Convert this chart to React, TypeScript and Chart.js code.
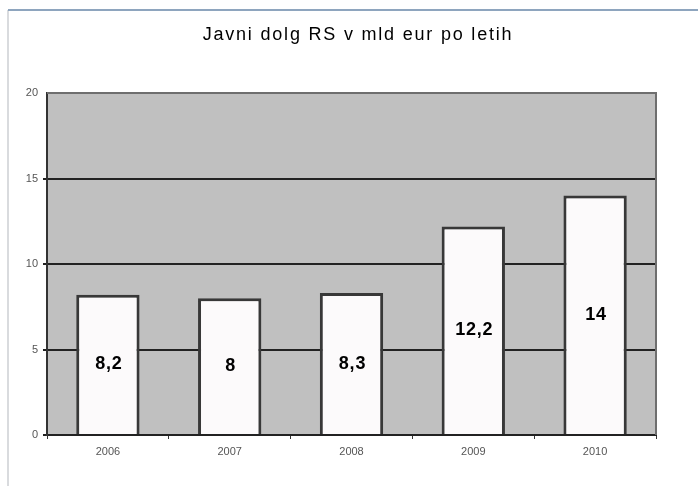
import React, { useEffect, useRef } from "react";
import { Chart, registerables } from "chart.js";

Chart.register(...registerables);

const title = "Javni dolg RS v mld eur po letih";
const categories = ["2006", "2007", "2008", "2009", "2010"];
const debtValues = [8.2, 8, 8.3, 12.2, 14];
const valueLabels = ["8,2", "8", "8,3", "12,2", "14"];
const yTicks = [0, 5, 10, 15, 20];

const decorPlugin = {
  id: "decor",
  beforeDraw(chart: any) {
    const { ctx, chartArea: a } = chart;
    ctx.save();
    // frame
    ctx.fillStyle = "#d9dbde";
    ctx.fillRect(7, 10, 2, 476);
    ctx.fillStyle = "#8ea5be";
    ctx.fillRect(8, 9, 690, 2);
    // plot background
    ctx.fillStyle = "#c0c0c0";
    ctx.fillRect(a.left, a.top, a.right - a.left, a.bottom - a.top);
    // title
    ctx.fillStyle = "#000";
    ctx.font = "18px 'Liberation Sans', Arial, sans-serif";
    ctx.textAlign = "center";
    ctx.textBaseline = "middle";
    (ctx as any).letterSpacing = "1.8px";
    ctx.fillText(title, 358, 35);
    ctx.restore();
  },
  afterDatasetsDraw(chart: any) {
    const { ctx, chartArea: a } = chart;
    const meta = chart.getDatasetMeta(0);
    ctx.save();
    ctx.strokeStyle = "#6e6e6e";
    ctx.lineWidth = 2;
    ctx.beginPath();
    ctx.moveTo(a.left, a.top);
    ctx.lineTo(a.right, a.top);
    ctx.lineTo(a.right, a.bottom);
    ctx.stroke();
    ctx.fillStyle = "#000";
    ctx.font = "bold 18px 'Liberation Sans', Arial, sans-serif";
    ctx.textAlign = "center";
    ctx.textBaseline = "middle";
    (ctx as any).letterSpacing = "0.8px";
    meta.data.forEach((bar: any, i: number) => {
      const yMid = (bar.y + bar.base) / 2;
      ctx.fillText(valueLabels[i], bar.x + 1, yMid);
    });
    ctx.restore();
  },
};

export default function App() {
  const ref = useRef<HTMLCanvasElement>(null);
  useEffect(() => {
    if (!ref.current) return;
    const chart = new Chart(ref.current, {
      type: "bar",
      data: {
        labels: categories,
        datasets: [
          {
            data: debtValues,
            backgroundColor: "#fcfafb",
            borderColor: "#383838",
            borderWidth: { top: 3, left: 3, right: 3, bottom: 0 },
            borderSkipped: "start",
            categoryPercentage: 1,
            barPercentage: 0.52,
          },
        ],
      },
      options: {
        animation: false,
        responsive: false,
        maintainAspectRatio: false,
        layout: { padding: { left: 0, top: 93, right: 42, bottom: 0 } },
        plugins: {
          legend: { display: false },
          title: { display: false },
          tooltip: { enabled: false },
        },
        scales: {
          x: {
            offset: true,
            grid: {
              offset: true,
              drawOnChartArea: false,
              drawTicks: true,
              tickLength: 4,
              color: "#333333",
              lineWidth: 1,
            },
            border: { color: "#222222", width: 2 },
            ticks: {
              color: "#555555",
              font: { family: "'Liberation Sans', Arial, sans-serif", size: 11 },
              padding: 6,
              maxRotation: 0,
            },
            afterFit(scale: any) {
              scale.height = 51;
            },
          },
          y: {
            min: 0,
            max: 20,
            afterBuildTicks(scale: any) {
              scale.ticks = yTicks.map((v) => ({ value: v }));
            },
            grid: {
              color: (c: any) => (c.tick && c.tick.value === 20 ? "rgba(0,0,0,0)" : "#222222"),
              lineWidth: 2,
              drawTicks: true,
              tickLength: 4,
            },
            border: { color: "#333333", width: 2 },
            ticks: {
              color: "#555555",
              font: { family: "'Liberation Sans', Arial, sans-serif", size: 11 },
              padding: 5,
            },
            afterFit(scale: any) {
              scale.width = 47;
            },
          },
        },
      },
      plugins: [decorPlugin],
    });
    return () => chart.destroy();
  }, []);
  return (
    <div style={{ position: "absolute", left: 0, top: 0, width: 698, height: 486, background: "#fff" }}>
      <canvas ref={ref} width={698} height={486} style={{ display: "block" }} />
    </div>
  );
}
